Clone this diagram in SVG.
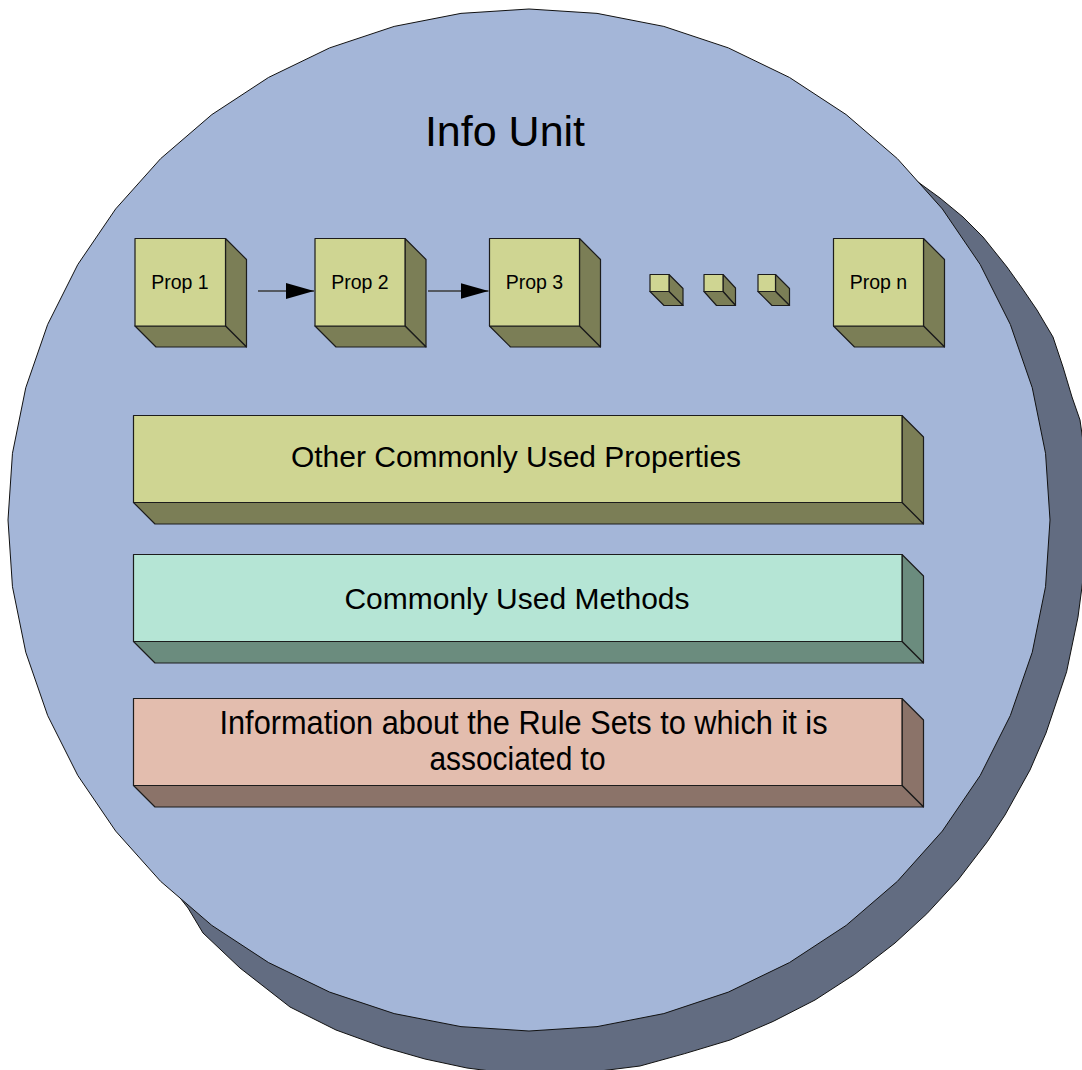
<svg xmlns="http://www.w3.org/2000/svg" width="1082" height="1070" viewBox="0 0 1082 1070">
<style>
  .edge{stroke:#1c1c1c;stroke-width:1.2;stroke-linejoin:round}
  .gF{fill:#CFD592}.gD{fill:#7B7E56}
  .tF{fill:#B5E5D5}.tD{fill:#6B8C7E}
  .pF{fill:#E3BDAE}.pD{fill:#8B7369}
  .lbl{font-family:"Liberation Sans",Arial,sans-serif;fill:#000;text-anchor:middle}
  .prop{font-size:19.5px}
  .bar{font-size:30px}
  .conn{stroke:#3a3a3a;stroke-width:1.5;fill:none}
</style>
<defs>
  <marker id="arrow" viewBox="0 0 28 16" refX="28" refY="8" markerWidth="28" markerHeight="16" markerUnits="userSpaceOnUse" orient="auto">
    <polygon points="0,0 28,8 0,16" fill="#000"/>
  </marker>
</defs>

<g id="info-unit">
  <polygon fill="#626C81" stroke="#111" stroke-width="1" points="529,520 900,168 918,182 940,198 963,217 983,237 1007,267 1022,288 1037,310 1053,337 1063,367 1072,397 1080,420 1087,470 1090,530 1083,579 1078,617 1066.6,671.8 1046,733 1030,770 1005,815 987.3,841.7 958,880 926.8,913.8 895,943 854.7,974.3 815,1000 773.2,1021.4 730,1040 684.8,1053.6 640,1066 592,1072 545,1074 498,1072 467,1068 425,1059 383,1047 336,1030 290,1007 240,968 203,933 188,908 170,885"/>
  <polygon fill="#A4B6D8" stroke="#111" stroke-width="1" points="529,9 597.01,13.37 663.85,26.41 728.38,47.9 789.5,77.46 846.16,114.6 897.4,158.67 942.34,208.92 980.2,264.5 1010.34,324.45 1032.25,387.74 1045.54,453.3 1050,520 1045.54,586.7 1032.25,652.26 1010.34,715.55 980.2,775.5 942.34,831.08 897.4,881.33 846.16,925.4 789.5,962.54 728.38,992.1 663.85,1013.59 597.01,1026.63 529,1031 460.99,1026.63 394.15,1013.59 329.62,992.1 268.5,962.54 211.84,925.4 160.6,881.33 115.66,831.08 77.8,775.5 47.66,715.55 25.75,652.26 12.46,586.7 8,520 12.46,453.3 25.75,387.74 47.66,324.45 77.8,264.5 115.66,208.92 160.6,158.67 211.84,114.6 268.5,77.46 329.62,47.9 394.15,26.41 460.99,13.37"/>
  <text class="lbl" x="505" y="146" font-size="43">Info Unit</text>
</g>

<g id="prop1">
  <polygon class="gD edge" points="225.5,238.5 246.5,259.5 246.5,347 225.5,326"/>
  <polygon class="gD edge" points="135,326 225.5,326 246.5,347 156,347"/>
  <rect class="gF edge" x="135" y="238.5" width="90.5" height="87.5"/>
  <text class="lbl prop" x="180" y="289">Prop 1</text>
</g>
<g id="prop2">
  <polygon class="gD edge" points="405,238.5 426,259.5 426,347 405,326"/>
  <polygon class="gD edge" points="315,326 405,326 426,347 336,347"/>
  <rect class="gF edge" x="315" y="238.5" width="90" height="87.5"/>
  <text class="lbl prop" x="360" y="289">Prop 2</text>
</g>
<g id="prop3">
  <polygon class="gD edge" points="579.5,238.5 600.5,259.5 600.5,347 579.5,326"/>
  <polygon class="gD edge" points="489.5,326 579.5,326 600.5,347 510.5,347"/>
  <rect class="gF edge" x="489.5" y="238.5" width="90" height="87.5"/>
  <text class="lbl prop" x="534.5" y="289">Prop 3</text>
</g>
<g id="dot1">
  <polygon class="gD edge" points="669,274.5 683,288.5 683,305.5 669,291.5"/>
  <polygon class="gD edge" points="650,291.5 669,291.5 683,305.5 664,305.5"/>
  <rect class="gF edge" x="650" y="274.5" width="19" height="17"/>
</g>
<g id="dot2">
  <polygon class="gD edge" points="723,274.5 735.5,288 735.5,305.5 723,291.5"/>
  <polygon class="gD edge" points="704,291.5 723,291.5 735.5,305.5 716.5,305.5"/>
  <rect class="gF edge" x="704" y="274.5" width="19" height="17"/>
</g>
<g id="dot3">
  <polygon class="gD edge" points="775.5,274.5 789.5,288.5 789.5,305.5 775.5,291.5"/>
  <polygon class="gD edge" points="758,291.5 775.5,291.5 789.5,305.5 772,305.5"/>
  <rect class="gF edge" x="758" y="274.5" width="17.5" height="17"/>
</g>
<g id="propn">
  <polygon class="gD edge" points="923.5,238.5 944.5,259.5 944.5,347 923.5,326"/>
  <polygon class="gD edge" points="833.5,326 923.5,326 944.5,347 854.5,347"/>
  <rect class="gF edge" x="833.5" y="238.5" width="90" height="87.5"/>
  <text class="lbl prop" x="878.5" y="289">Prop n</text>
</g>

<g id="bar-properties">
  <polygon class="gD edge" points="902,415.5 923.5,437 923.5,524 902,502.5"/>
  <polygon class="gD edge" points="133.5,502.5 902,502.5 923.5,524 155,524"/>
  <rect class="gF edge" x="133.5" y="415.5" width="768.5" height="87"/>
  <text class="lbl bar" x="516" y="467">Other Commonly Used Properties</text>
</g>
<g id="bar-methods">
  <polygon class="tD edge" points="902,554.5 923.5,576 923.5,663 902,641.5"/>
  <polygon class="tD edge" points="133.5,641.5 902,641.5 923.5,663 155,663"/>
  <rect class="tF edge" x="133.5" y="554.5" width="768.5" height="87"/>
  <text class="lbl bar" x="517" y="609">Commonly Used Methods</text>
</g>
<g id="bar-rules">
  <polygon class="pD edge" points="902,698.5 923.5,720 923.5,807 902,785.5"/>
  <polygon class="pD edge" points="133.5,785.5 902,785.5 923.5,807 155,807"/>
  <rect class="pF edge" x="133.5" y="698.5" width="768.5" height="87"/>
  <text class="lbl" font-size="33" x="523.5" y="734" textLength="608" lengthAdjust="spacingAndGlyphs">Information about the Rule Sets to which it is</text>
  <text class="lbl" font-size="33" x="517.5" y="770" textLength="176" lengthAdjust="spacingAndGlyphs">associated to</text>
</g>

<g id="connectors">
  <line class="conn" x1="258" y1="291" x2="314" y2="291" marker-end="url(#arrow)"/>
  <line class="conn" x1="428" y1="291" x2="488.5" y2="291" marker-end="url(#arrow)"/>
</g>
</svg>
